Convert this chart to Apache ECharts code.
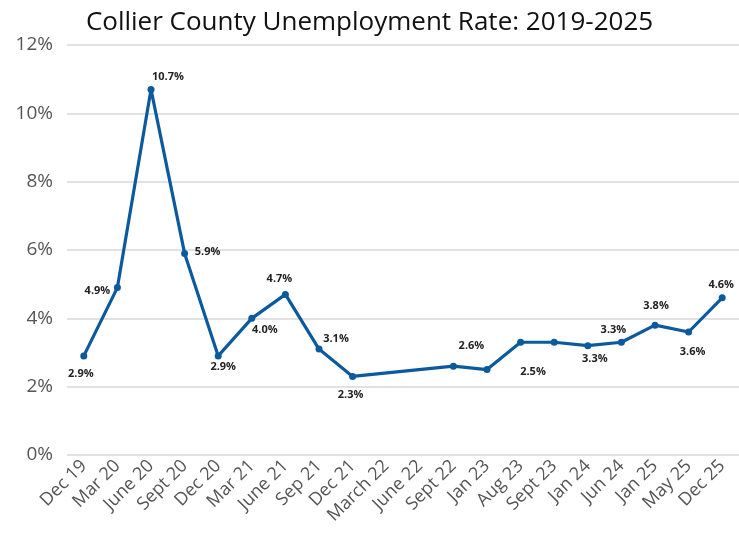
<!DOCTYPE html>
<html>
<head>
<meta charset="utf-8">
<script src="https://cdn.jsdelivr.net/npm/echarts@6/dist/echarts.min.js"></script>
<style>
html,body{margin:0;padding:0;background:#fff;}
#chart{width:739px;height:539px;}
</style>
</head>
<body>
<div id="chart"></div>
<script>
const categories = ["Dec 19","Mar 20","June 20","Sept 20","Dec 20","Mar 21","June 21","Sep 21","Dec 21","March 22","June 22","Sept 22","Jan 23","Aug 23","Sept 23","Jan 24","Jun 24","Jan 25","May 25","Dec 25"];
const rates = [2.9,4.9,10.7,5.9,2.9,4.0,4.7,3.1,2.3,null,null,2.6,2.5,3.3,3.3,3.2,3.3,3.8,3.6,4.6];
const pointLabels = ["2.9%","4.9%","10.7%","5.9%","2.9%","4.0%","4.7%","3.1%","2.3%","","","2.6%","2.5%","","","3.3%","3.3%","3.8%","3.6%","4.6%"];
const yTicks = [0,2,4,6,8,10,12];

// label placement offsets (px) relative to each point
const labelOffsets = [[-3,18],[-20,3],[17,-13],[23,-2],[5,11],[13,12],[-6,-16],[17,-10],[-2,18],[0,0],[0,0],[18,-20],[46,2],[0,0],[0,0],[7,13],[-8,-12],[1,-19],[4,20],[-1,-13]];

const seriesData = rates.map((v, i) => ({
  value: v,
  label: {
    show: pointLabels[i] !== "",
    formatter: pointLabels[i],
    position: 'inside',
    offset: labelOffsets[i]
  }
}));

const chart = echarts.init(document.getElementById('chart'));
chart.setOption({
  animation: false,
  title: {
    text: "Collier County Unemployment Rate: 2019-2025",
    left: 'center',
    top: 5,
    textStyle: {fontFamily: 'Open Sans', fontWeight: 'normal', fontSize: 26, color: '#111'}
  },
  grid: {left: 67, right: 0, top: 45, bottom: 84},
  xAxis: {
    type: 'category',
    data: categories,
    boundaryGap: true,
    axisLine: {show: false},
    axisTick: {show: false},
    axisLabel: {
      interval: 0, rotate: 45, margin: 8,
      fontFamily: 'Open Sans', fontSize: 18, color: '#555'
    }
  },
  yAxis: {
    type: 'value',
    min: yTicks[0], max: yTicks[yTicks.length - 1], interval: 2,
    axisLabel: {formatter: v => v + '%', fontFamily: 'Open Sans', fontSize: 19, color: '#555', margin: 14},
    splitLine: {lineStyle: {color: '#d9d9d9', width: 1.5}},
    axisLine: {show: false},
    axisTick: {show: false}
  },
  series: [{
    type: 'line',
    data: seriesData,
    connectNulls: true,
    symbol: 'circle',
    symbolSize: 7,
    lineStyle: {color: '#0b5a9e', width: 3.2},
    itemStyle: {color: '#0b5a9e'},
    label: {fontFamily: 'Open Sans', fontWeight: 'bold', fontSize: 11, color: '#222'}
  }]
});
</script>
</body>
</html>
